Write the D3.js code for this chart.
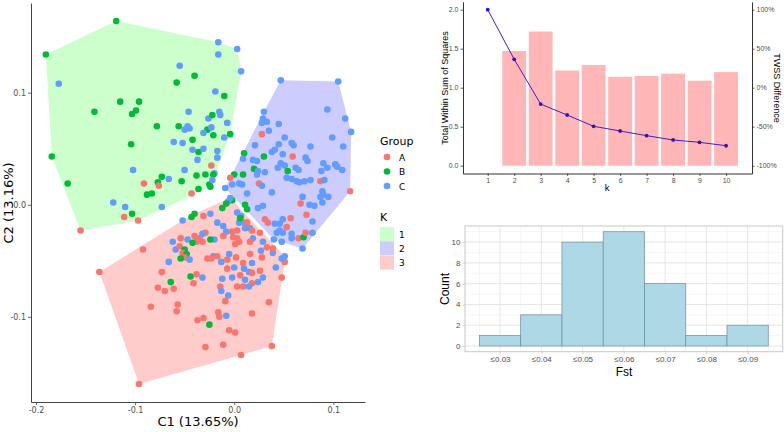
<!DOCTYPE html>
<html><head><meta charset="utf-8">
<script src="https://cdn.jsdelivr.net/npm/d3@7"></script>
<style>body{margin:0;background:#fff}svg{display:block}</style>
</head><body><svg id="c" width="784" height="432"></svg>
<script>
// ---------- DATA ----------
const groupNames = ["A", "B", "C"];
const groupColors = ["#F8766D", "#00BA38", "#619CFF"];
const kNames = ["1", "2", "3"];
const kColors = ["#CCFFCC", "#CCCCFF", "#FFCCCC"];

// [C1, C2, group] for samples assigned to K = 1
const cluster1 = [
[-0.190,0.134,"B"],[-0.119,0.164,"B"],[-0.016,0.145,"C"],[0.003,0.139,"C"],[-0.016,0.134,"C"],
[0.007,0.119,"C"],[-0.177,0.108,"C"],[-0.055,0.124,"C"],[-0.058,0.109,"B"],[-0.040,0.115,"B"],
[-0.141,0.083,"B"],[-0.115,0.092,"B"],[-0.096,0.092,"B"],[-0.099,0.084,"B"],[-0.103,0.081,"B"],
[-0.046,0.083,"C"],[-0.078,0.070,"B"],[-0.056,0.070,"B"],[-0.047,0.070,"C"],[-0.045,0.068,"C"],
[-0.050,0.067,"C"],[-0.042,0.058,"B"],[-0.061,0.056,"C"],[-0.052,0.055,"C"],[-0.104,0.054,"B"],
[-0.042,0.049,"C"],[-0.036,0.047,"B"],[-0.184,0.043,"B"],[-0.037,0.040,"C"],[-0.168,0.019,"B"],
[-0.102,0.031,"C"],[-0.050,0.031,"C"],[-0.038,0.026,"B"],[-0.073,0.025,"B"],[-0.077,0.020,"B"],
[-0.066,0.023,"C"],[-0.053,0.021,"B"],[-0.091,0.019,"A"],[-0.076,0.017,"A"],[-0.083,0.010,"B"],
[-0.088,0.009,"B"],[-0.043,0.010,"A"],[-0.036,0.014,"B"],[-0.122,0.002,"C"],[-0.110,-0.002,"C"],
[-0.073,-0.002,"C"],[-0.103,-0.008,"B"],[-0.111,-0.011,"A"],[-0.097,-0.014,"A"],[-0.155,-0.023,"A"],
[-0.019,0.101,"C"],[-0.010,0.097,"B"],[-0.026,0.077,"C"],[-0.022,0.080,"B"],[-0.015,0.083,"C"],
[-0.014,0.080,"C"],[-0.007,0.073,"C"],[-0.021,0.062,"B"],[-0.027,0.067,"B"],[-0.023,0.069,"C"],
[-0.031,0.064,"C"],[-0.004,0.063,"B"],[-0.010,0.060,"C"],[-0.031,0.050,"C"],[-0.017,0.048,"C"],
[-0.017,0.042,"C"],[-0.023,0.035,"A"],[-0.020,0.028,"C"],[-0.029,0.027,"B"],[-0.021,0.027,"B"],
[-0.025,0.018,"B"],[-0.024,0.016,"B"],[-0.022,0.022,"C"]
];
// K = 2
const cluster2 = [
[0.047,0.111,"C"],[0.105,0.110,"C"],[0.094,0.085,"C"],[0.112,0.077,"C"],[0.118,0.065,"C"],
[0.030,0.083,"C"],[0.029,0.077,"C"],[0.028,0.073,"C"],[0.033,0.074,"C"],[0.045,0.072,"C"],
[0.035,0.066,"C"],[0.028,0.063,"A"],[0.051,0.060,"C"],[0.099,0.060,"C"],[0.021,0.053,"C"],
[0.045,0.054,"C"],[0.058,0.055,"C"],[0.060,0.053,"C"],[0.077,0.052,"C"],[0.110,0.052,"C"],
[0.038,0.047,"C"],[0.041,0.049,"C"],[0.049,0.045,"C"],[0.059,0.043,"A"],[0.010,0.046,"B"],
[0.030,0.043,"B"],[0.019,0.040,"C"],[0.023,0.039,"C"],[0.009,0.041,"C"],[0.072,0.042,"C"],
[0.074,0.039,"C"],[0.047,0.037,"C"],[0.051,0.035,"C"],[0.090,0.037,"C"],[0.102,0.036,"C"],
[0.104,0.034,"C"],[0.020,0.032,"B"],[0.024,0.030,"C"],[0.031,0.029,"C"],[0.044,0.033,"C"],
[0.062,0.033,"C"],[0.065,0.031,"C"],[0.054,0.030,"B"],[0.088,0.030,"C"],[0.094,0.033,"C"],
[0.109,0.031,"C"],[0.009,0.027,"B"],[0.000,0.027,"B"],[0.023,0.027,"C"],[0.053,0.024,"C"],
[0.058,0.023,"C"],[0.063,0.021,"C"],[0.066,0.020,"C"],[0.071,0.021,"C"],[0.077,0.022,"C"],
[0.087,0.021,"A"],[0.091,0.022,"C"],[0.008,0.018,"C"],[0.025,0.019,"A"],[0.028,0.017,"C"],
[0.089,0.012,"C"],[0.090,0.009,"C"],[0.095,0.007,"C"],[0.117,0.012,"A"],[0.013,0.010,"C"],
[0.038,0.011,"C"],[0.069,0.007,"C"],[0.087,0.007,"C"],[-0.004,0.024,"A"],[-0.002,0.018,"C"],
[-0.009,0.015,"C"],[0.005,0.019,"C"],
[0.067,0.001,"A"],[0.076,0.000,"C"],[0.081,-0.001,"C"],[0.089,0.002,"C"],
[0.011,0.000,"B"],[0.013,-0.004,"B"],[0.024,-0.003,"C"],[0.029,-0.001,"C"],
[0.073,-0.009,"A"],[0.049,-0.013,"C"],[0.057,-0.012,"A"],[0.079,-0.015,"C"],[0.031,-0.013,"A"],
[0.034,-0.016,"A"],[0.046,-0.017,"C"],[0.041,-0.017,"C"],[0.053,-0.020,"A"],[0.043,-0.025,"C"],
[0.046,-0.023,"C"],[0.049,-0.025,"C"],[0.058,-0.026,"C"],[0.058,-0.030,"C"],[0.065,-0.030,"A"],
[0.070,-0.029,"B"],[0.072,-0.025,"A"],[0.079,-0.025,"C"],[0.040,-0.031,"C"],[0.048,-0.033,"C"],
[0.069,-0.039,"C"]
];
// K = 3
const cluster3 = [
[-0.136,-0.060,"A"],[-0.096,-0.160,"A"],[0.038,-0.126,"A"],[0.048,-0.065,"A"],[0.051,-0.051,"A"],
[0.048,-0.048,"C"],[0.051,-0.046,"C"],[0.042,-0.056,"C"],[0.039,-0.043,"C"],[0.027,-0.041,"C"],
[0.029,-0.033,"C"],[0.039,-0.039,"A"],[0.033,-0.038,"A"],[-0.024,-0.008,"C"],[-0.012,-0.003,"B"],
[-0.040,-0.008,"B"],[-0.043,-0.011,"B"],[-0.031,-0.010,"A"],[-0.052,-0.014,"C"],[-0.017,-0.016,"C"],
[-0.011,-0.019,"C"],[-0.008,-0.024,"C"],[0.005,-0.016,"C"],[0.010,-0.016,"C"],[0.013,-0.016,"A"],
[0.011,-0.021,"C"],[0.016,-0.021,"C"],[0.018,-0.023,"A"],[0.026,-0.025,"A"],[0.019,-0.030,"C"],
[0.003,-0.023,"A"],[-0.002,-0.024,"A"],[-0.011,-0.028,"A"],[-0.020,-0.031,"C"],[-0.029,-0.025,"A"],
[-0.024,-0.031,"B"],[-0.040,-0.028,"A"],[-0.035,-0.030,"A"],[-0.032,-0.033,"A"],[-0.032,-0.026,"C"],
[-0.001,-0.029,"A"],[0.003,-0.030,"A"],[0.005,-0.033,"A"],[0.001,-0.035,"A"],[0.016,-0.033,"A"],
[-0.054,-0.030,"A"],[-0.047,-0.031,"C"],[-0.038,-0.033,"A"],[-0.042,-0.034,"B"],[-0.062,-0.033,"C"],
[-0.059,-0.040,"C"],[-0.055,-0.037,"A"],[-0.050,-0.040,"B"],[-0.052,-0.043,"A"],[-0.048,-0.044,"B"],
[-0.050,-0.047,"A"],[-0.045,-0.049,"C"],[-0.054,-0.048,"B"],[-0.066,-0.051,"C"],[-0.092,-0.040,"A"],
[-0.073,-0.060,"A"],[-0.077,-0.074,"A"],[-0.070,-0.077,"A"],[-0.061,-0.075,"A"],[-0.064,-0.069,"B"],
[-0.044,-0.064,"B"],[-0.038,-0.062,"A"],[-0.032,-0.065,"C"],[-0.041,-0.070,"A"],[-0.021,-0.046,"C"],
[-0.027,-0.048,"A"],[-0.023,-0.048,"A"],[-0.013,-0.051,"C"],[-0.017,-0.046,"A"],[-0.007,-0.049,"A"],
[-0.005,-0.044,"C"],[0.002,-0.047,"A"],[0.009,-0.052,"A"],[0.018,-0.052,"C"],[0.016,-0.044,"A"],
[0.028,-0.047,"A"],[-0.007,-0.057,"A"],[0.000,-0.056,"C"],[0.006,-0.063,"A"],[0.010,-0.057,"C"],
[0.015,-0.060,"C"],[0.011,-0.067,"C"],[0.018,-0.061,"A"],[0.018,-0.070,"A"],[0.026,-0.059,"A"],
[0.029,-0.065,"C"],[0.024,-0.069,"C"],[0.003,-0.073,"A"],[0.009,-0.073,"A"],[0.015,-0.073,"C"],
[-0.012,-0.066,"C"],[-0.014,-0.073,"A"],[-0.002,-0.065,"C"],[-0.013,-0.077,"C"],[-0.006,-0.081,"C"],
[-0.009,-0.086,"A"],[0.035,-0.087,"A"],[0.018,-0.097,"A"],[-0.016,-0.096,"A"],[-0.015,-0.100,"A"],
[-0.008,-0.099,"C"],[-0.031,-0.101,"A"],[-0.037,-0.103,"A"],[-0.025,-0.107,"B"],[-0.005,-0.112,"A"],
[0.001,-0.114,"A"],[-0.011,-0.125,"A"],[-0.029,-0.127,"A"],[0.007,-0.134,"A"],[-0.057,-0.089,"A"],
[-0.058,-0.095,"A"],[-0.084,-0.091,"A"],[0.003,-0.007,"C"],[0.007,-0.010,"C"],
[-0.002,0.004,"B"],[-0.006,0.003,"C"],[-0.004,0.006,"C"],[-0.008,0.001,"B"],[0.006,-0.012,"B"]
];
const scatterXTicks = [-0.2, -0.1, 0.0, 0.1];
const scatterYTicks = [-0.1, 0.0, 0.1];

// Elbow plot
const kValues = [1, 2, 3, 4, 5, 6, 7, 8, 9, 10];
const twss = [2.00, 1.364, 0.79, 0.65, 0.505, 0.445, 0.385, 0.33, 0.30, 0.256];
const diffK = [2, 3, 4, 5, 6, 7, 8, 9, 10];
const twssDiffPct = [47, 72, 22, 29, 14, 15, 18, 9, 20];
const elbowLeftTicks = [0, 0.5, 1.0, 1.5, 2.0];
const elbowRightTicks = [-100, -50, 0, 50, 100];

// Fst histogram
const fstLabels = ["≤0.03", "≤0.04", "≤0.05", "≤0.06", "≤0.07", "≤0.08", "≤0.09"];
const fstUpper = [0.03, 0.04, 0.05, 0.06, 0.07, 0.08, 0.09];
const fstCounts = [1, 3, 10, 11, 6, 1, 2];
const countTicks = [0, 2, 4, 6, 8, 10];

// ---------- DRAW ----------
const svg = d3.select("#c");
const SANS1 = "'DejaVu Sans', sans-serif";
const SANS2 = "'Liberation Sans', Arial, sans-serif";
const gcol = d3.scaleOrdinal(groupNames, groupColors);

function styleAxis(g, font, size, lineCol, tickCol) {
  g.select(".domain").attr("stroke", lineCol).attr("stroke-width", 1);
  g.selectAll(".tick line").attr("stroke", tickCol).attr("stroke-width", 0.8);
  g.selectAll(".tick text").attr("fill", "#4d4d4d").style("font-family", font).style("font-size", size + "px");
}

// --- Scatter ---
const sx = d3.scaleLinear().domain([-0.205, 0.132]).range([31, 365]);
const sy = d3.scaleLinear().domain([-0.176, 0.18]).range([402, 3]);
const clusters = [cluster1, cluster2, cluster3];
const hullG = svg.append("g");
clusters.forEach((cl, i) => {
  const hull = d3.polygonHull(cl.map(d => [sx(d[0]), sy(d[1])]));
  hullG.append("path").attr("d", "M" + hull.join("L") + "Z").attr("fill", kColors[i]);
});
const allPts = [].concat(...clusters);
svg.append("g").selectAll("circle").data(allPts).join("circle")
  .attr("cx", d => sx(d[0])).attr("cy", d => sy(d[1])).attr("r", 3.3)
  .attr("fill", d => gcol(d[2]));

const fmt1 = d => d.toFixed(1);
const sax = svg.append("g").attr("transform", "translate(0,402)")
  .call(d3.axisBottom(sx).tickValues(scatterXTicks).tickFormat(fmt1).tickSize(3).tickSizeOuter(0).tickPadding(2));
styleAxis(sax, SANS1, 8, "#444", "#444");
const say = svg.append("g").attr("transform", "translate(31,0)")
  .call(d3.axisLeft(sy).tickValues(scatterYTicks).tickFormat(fmt1).tickSize(3).tickSizeOuter(0).tickPadding(2));
styleAxis(say, SANS1, 8, "#444", "#444");
svg.append("text").attr("x", 198).attr("y", 426).attr("text-anchor", "middle")
  .style("font-family", SANS1).style("font-size", "13px").text("C1 (13.65%)");
svg.append("text").attr("transform", "translate(13,203) rotate(-90)").attr("text-anchor", "middle")
  .style("font-family", SANS1).style("font-size", "13px").text("C2 (13.16%)");

// Legend
const lg = svg.append("g");
lg.append("text").attr("x", 380).attr("y", 145).style("font-family", SANS1).style("font-size", "11px").text("Group");
groupNames.forEach((g, i) => {
  lg.append("circle").attr("cx", 387).attr("cy", 157 + i * 14.5).attr("r", 3.3).attr("fill", groupColors[i]);
  lg.append("text").attr("x", 399).attr("y", 160.5 + i * 14.5).style("font-family", SANS1).style("font-size", "9px").text(g);
});
lg.append("text").attr("x", 380).attr("y", 221).style("font-family", SANS1).style("font-size", "11px").text("K");
kNames.forEach((k, i) => {
  lg.append("rect").attr("x", 380).attr("y", 227 + i * 14.3).attr("width", 14).attr("height", 14).attr("fill", kColors[i]);
  lg.append("text").attr("x", 399).attr("y", 237.5 + i * 14.3).style("font-family", SANS1).style("font-size", "9px").text(k);
});

// --- Elbow plot ---
const ex = d3.scaleLinear().domain([0.067, 10.98]).range([463, 752]);
const eyL = d3.scaleLinear().domain([-0.1, 2.1]).range([173.5, 1.9]);
const eyR = d3.scaleLinear().domain([-110, 110]).range([173.5, 1.9]);
svg.append("g").selectAll("rect").data(diffK).join("rect")
  .attr("x", (d) => ex(d - 0.45)).attr("width", ex(1.45) - ex(0.55))
  .attr("y", (d, i) => eyR(twssDiffPct[i])).attr("height", (d, i) => eyR(-100) - eyR(twssDiffPct[i]))
  .attr("fill", "#FFB6B6");
const line = d3.line().x((d, i) => ex(kValues[i])).y(d => eyL(d));
svg.append("path").attr("d", line(twss)).attr("fill", "none").attr("stroke", "#3d1fd0").attr("stroke-width", 1);
svg.append("g").selectAll("circle").data(twss).join("circle")
  .attr("cx", (d, i) => ex(kValues[i])).attr("cy", d => eyL(d)).attr("r", 1.9)
  .attr("fill", (d, i) => i === 0 ? "#1515f0" : "#3a10b0");
const ebx = svg.append("g").attr("transform", "translate(0,173.5)")
  .call(d3.axisBottom(ex).tickValues(kValues).tickFormat(d3.format("d")).tickSize(2.5).tickSizeOuter(0).tickPadding(2));
styleAxis(ebx, SANS2, 7, "#333", "#333");
const ebl = svg.append("g").attr("transform", "translate(463,0)")
  .call(d3.axisLeft(eyL).tickValues(elbowLeftTicks).tickFormat(fmt1).tickSize(2.5).tickSizeOuter(0).tickPadding(2));
styleAxis(ebl, SANS2, 7, "#333", "#333");
const ebr = svg.append("g").attr("transform", "translate(752,0)")
  .call(d3.axisRight(eyR).tickValues(elbowRightTicks).tickFormat(d => d + "%").tickSize(2.5).tickSizeOuter(0).tickPadding(2));
styleAxis(ebr, SANS2, 7, "#333", "#333");
svg.append("text").attr("x", 607).attr("y", 190.5).attr("text-anchor", "middle")
  .style("font-family", SANS2).style("font-size", "9.5px").text("k");
svg.append("text").attr("transform", "translate(448,88) rotate(-90)").attr("text-anchor", "middle")
  .style("font-family", SANS2).style("font-size", "9px").text("Total Within Sum of Squares");
svg.append("text").attr("transform", "translate(774,88) rotate(90)").attr("text-anchor", "middle")
  .style("font-family", SANS2).style("font-size", "9px").text("TWSS Difference");

// --- Histogram ---
const hx = d3.scaleLinear().domain([0.0215, 0.0985]).range([465, 782.7]);
const hy = d3.scaleLinear().domain([-0.55, 11.55]).range([351.7, 226]);
const hg = svg.append("g");
const minorY = [1, 3, 5, 7, 9, 11];
const minorX = [0.025, 0.035, 0.045, 0.055, 0.065, 0.075, 0.085, 0.095];
hg.selectAll(".my").data(minorY).join("line").attr("x1", 465).attr("x2", 782.7)
  .attr("y1", d => hy(d)).attr("y2", d => hy(d)).attr("stroke", "#efefef").attr("stroke-width", 0.6);
hg.selectAll(".mx").data(minorX).join("line").attr("y1", 226).attr("y2", 351.7)
  .attr("x1", d => hx(d)).attr("x2", d => hx(d)).attr("stroke", "#efefef").attr("stroke-width", 0.6);
hg.selectAll(".My").data(countTicks).join("line").attr("x1", 465).attr("x2", 782.7)
  .attr("y1", d => hy(d)).attr("y2", d => hy(d)).attr("stroke", "#e3e3e3").attr("stroke-width", 0.9);
hg.selectAll(".Mx").data(fstUpper).join("line").attr("y1", 226).attr("y2", 351.7)
  .attr("x1", d => hx(d)).attr("x2", d => hx(d)).attr("stroke", "#e3e3e3").attr("stroke-width", 0.9);
hg.selectAll("rect.bar").data(fstUpper).join("rect")
  .attr("x", d => hx(d - 0.005)).attr("width", hx(0.035) - hx(0.025))
  .attr("y", (d, i) => hy(fstCounts[i])).attr("height", (d, i) => hy(0) - hy(fstCounts[i]))
  .attr("fill", "#ADD8E6").attr("stroke", "#6f8c97").attr("stroke-width", 0.7);
hg.append("rect").attr("x", 465).attr("y", 226).attr("width", 317.7).attr("height", 125.7)
  .attr("fill", "none").attr("stroke", "#c8c8c8").attr("stroke-width", 1);
const hax = svg.append("g").attr("transform", "translate(0,351.7)")
  .call(d3.axisBottom(hx).tickValues(fstUpper).tickFormat((d, i) => fstLabels[i]).tickSize(2.5).tickSizeOuter(0).tickPadding(2));
hax.select(".domain").remove();
styleAxis(hax, SANS2, 8, "#c8c8c8", "#c8c8c8");
const hay = svg.append("g").attr("transform", "translate(465,0)")
  .call(d3.axisLeft(hy).tickValues(countTicks).tickSize(2.5).tickSizeOuter(0).tickPadding(2));
hay.select(".domain").remove();
styleAxis(hay, SANS2, 8, "#c8c8c8", "#c8c8c8");
svg.append("text").attr("x", 624).attr("y", 376).attr("text-anchor", "middle")
  .style("font-family", SANS2).style("font-size", "12px").text("Fst");
svg.append("text").attr("transform", "translate(449,289) rotate(-90)").attr("text-anchor", "middle")
  .style("font-family", SANS2).style("font-size", "12px").text("Count");
</script></body></html>
